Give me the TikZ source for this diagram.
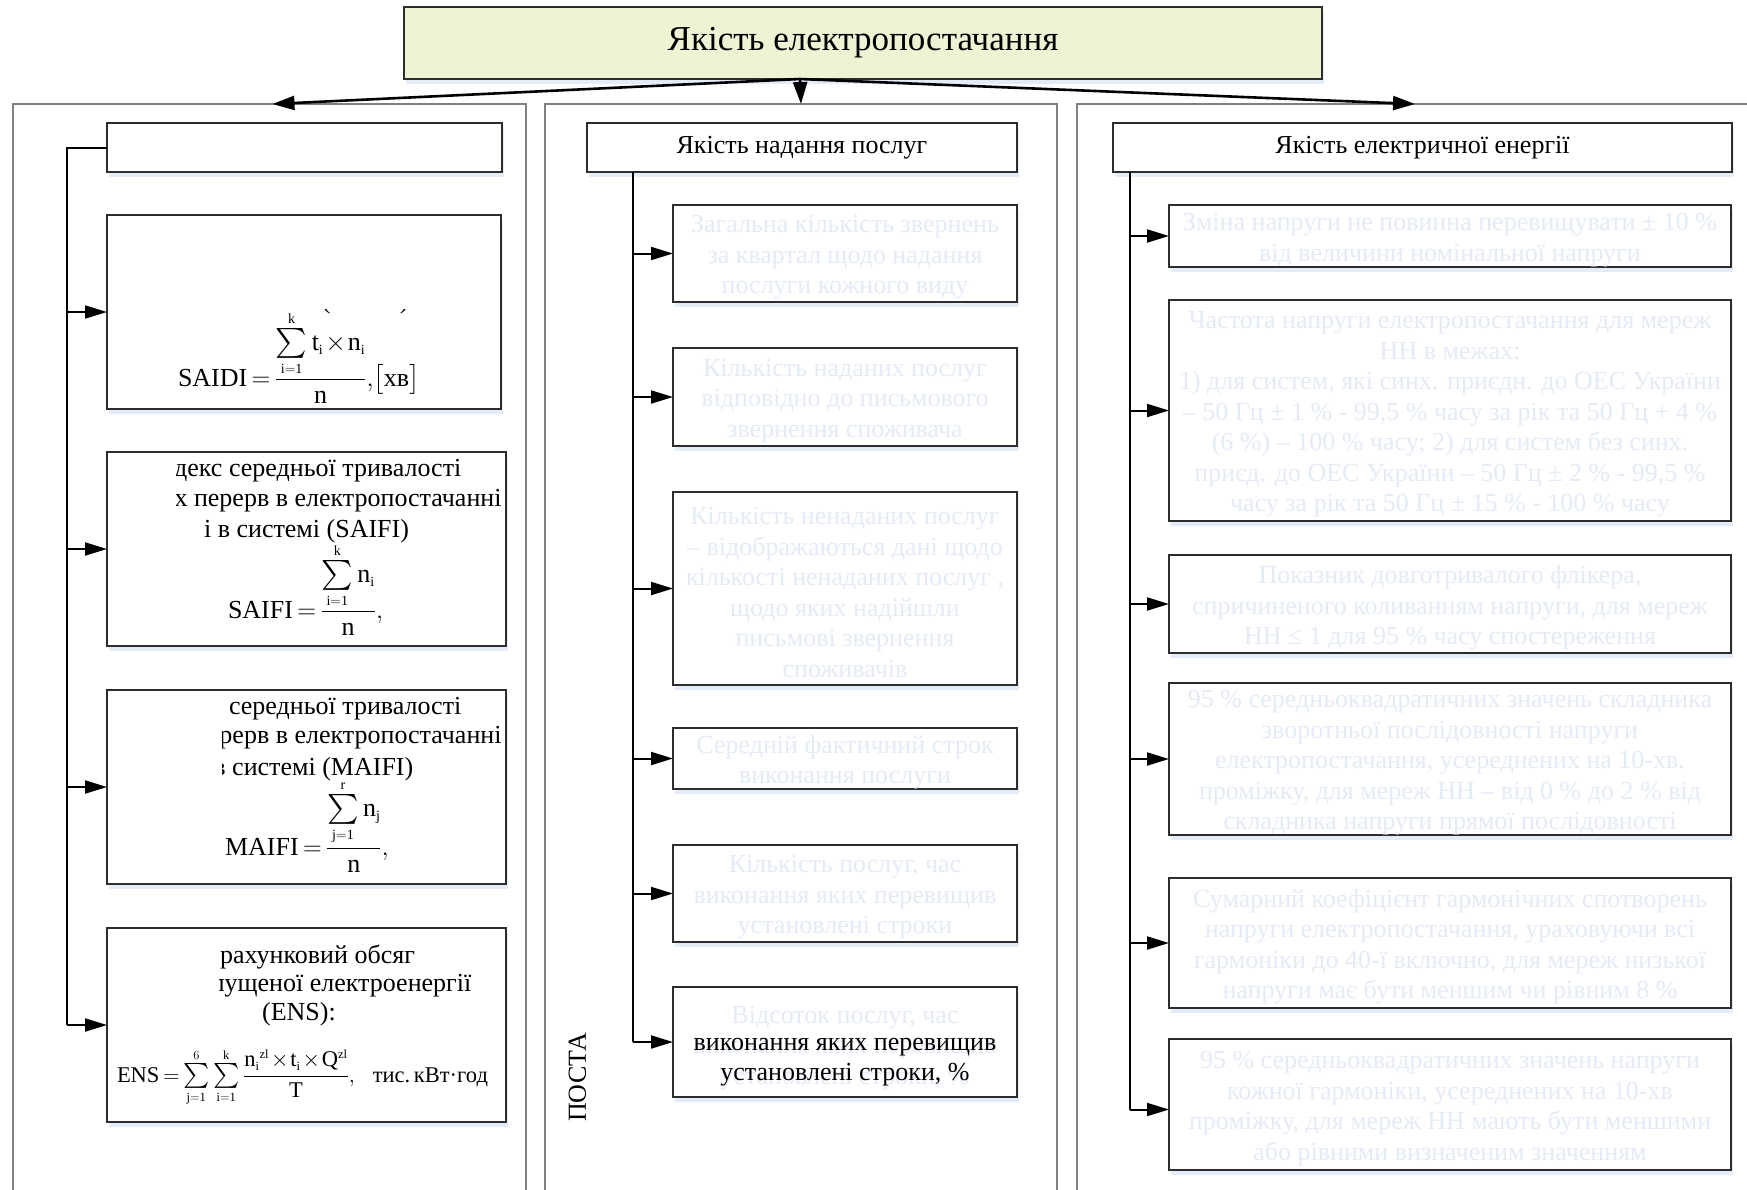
\RequirePackage{fix-cm}
\documentclass[tikz,border=0pt]{standalone}
\usepackage{amsmath}
\usepackage{graphicx}
\usepackage{fontspec}
\setmainfont{Liberation Serif}
\usetikzlibrary{arrows.meta,shadows}
\DeclareMathSizes{26}{26}{14}{11}
\DeclareMathSizes{22.5}{22.5}{12.5}{9.5}
\thickmuskip=3mu plus 2mu
\medmuskip=1.5mu plus 1mu
\newcommand{\bsum}{\mathop{\vcenter{\hbox{\scalebox{1.2}{$\textstyle\sum$}}}}\limits}
\definecolor{titlefill}{RGB}{238,243,212}
\definecolor{boxline}{RGB}{45,45,45}
\definecolor{contline}{RGB}{128,128,128}
\definecolor{fadec}{RGB}{229,235,246}
\definecolor{shadowc}{RGB}{228,236,247}
\tikzset{
  box/.style={draw=boxline, line width=1.3pt, fill=white, inner sep=0pt, outer sep=0pt,
    general shadow={fill=shadowc, shadow xshift=2pt, shadow yshift=-5pt}},
  cont/.style={draw=contline, line width=1.4pt, fill=white, inner sep=0pt, outer sep=0pt, anchor=north},
  txt/.style={inner sep=0pt, outer sep=0pt, font=\fontsize{26}{30.5}\selectfont},
  fadetxt/.style={txt, text=fadec, align=center},
  conn/.style={line width=2pt, draw=black},
  arr/.style={conn, -{Triangle[length=22pt,width=13pt]}},
  bigarr/.style={line width=2.6pt, -{Triangle[length=22pt,width=14pt]}},
}
\begin{document}
\begin{tikzpicture}[x=1pt,y=-1pt]
\useasboundingbox (0,0) rectangle (1747,1189);
\fill[white] (0,0) rectangle (1747,1189);

% containers
\node[cont, minimum width=513pt, minimum height=1110pt] (lcont) at (269.5,104) {};
\node[cont, minimum width=512pt, minimum height=1110pt] (mcont) at (801,104) {};
\node[cont, minimum width=676pt, minimum height=1110pt] (rcont) at (1415,104) {};

% title
\node[box, fill=titlefill, minimum width=918pt, minimum height=72pt,
      font=\fontsize{35}{40}\selectfont] (title) at (863,43) {Якість електропостачання};
\coordinate (src) at ([xshift=-63pt]title.south);
\draw[bigarr] (src) -- ([xshift=3pt]lcont.north);
\draw[bigarr] (src) -- (mcont.north);
\draw[bigarr] (src) -- (rcont.north);

% ---------------- left column
\node[box, minimum width=395pt, minimum height=49pt] (lhead) at (304.5,147.5) {};
\node[box, minimum width=394pt, minimum height=194pt] (saidi) at (304,312) {};
\node[box, minimum width=399pt, minimum height=194pt] (saifi) at (306.5,549) {};
\node[box, minimum width=399pt, minimum height=194pt] (maifi) at (306.5,787) {};
\node[box, minimum width=399pt, minimum height=194pt] (ens) at (306.5,1025) {};
\coordinate (lt) at (67,0);
\draw[conn] (lhead.west) -- (lhead.west -| lt) -- (ens.west -| lt);
\draw[arr] (saidi.west -| lt) -- (saidi.west);
\draw[arr] (saifi.west -| lt) -- (saifi.west);
\draw[arr] (maifi.west -| lt) -- (maifi.west);
\draw[arr] (ens.west -| lt) -- (ens.west);

\begin{scope}
  \clip (107,309.5) rectangle (501,409);
  \node[txt, anchor=base] (saidi0) at (304,308.5) {і в системі (SAIDI)};
\end{scope}
\node[txt, anchor=base west] (saidif) at (178,386)
  {$\mathrm{SAIDI}=\dfrac{\bsum_{\mathrm{i=1}}^{\mathrm{k}}\mathrm{t_i\times n_i}}{\mathrm{n}},\!\bigl[\text{хв}\bigr]$};

\begin{scope}
  \clip (176,452) rectangle (506,646);
  \node[txt, anchor=base] (saifi1) at (306.5,476) {Індекс середньої тривалості};
  \node[txt, anchor=base] (saifi2) at (306.5,506) {довгих перерв в електропостачанні};
  \node[txt, anchor=base] (saifi3) at (306.5,537) {і в системі (SAIFI)};
\end{scope}
\node[txt, anchor=base west] (saifif) at (228,618)
  {$\mathrm{SAIFI}=\dfrac{\bsum_{\mathrm{i=1}}^{\mathrm{k}}\mathrm{n_i}}{\mathrm{n}},$};

\begin{scope}
  \clip (222,690) rectangle (506,884);
  \node[txt, anchor=base] (maifi1) at (306.5,714) {Індекс середньої тривалості};
  \node[txt, anchor=base] (maifi2) at (306.5,743) {довгих перерв в електропостачанні};
  \node[txt, anchor=base] (maifi3) at (306.5,775) {і в системі (MAIFI)};
\end{scope}
\node[txt, anchor=base west] (maifif) at (225,855)
  {$\mathrm{MAIFI}=\dfrac{\bsum_{\mathrm{j=1}}^{\mathrm{r}}\mathrm{n_j}}{\mathrm{n}},$};

\begin{scope}
  \clip (219,928) rectangle (506,1122);
  \node[txt, anchor=base] (ens1) at (299,963) {Розрахунковий обсяг};
  \node[txt, anchor=base] (ens2) at (299,991) {недовідпущеної електроенергії};
  \node[txt, anchor=base] (ens3) at (299,1020) {(ENS):};
\end{scope}
\node[txt, anchor=base west, font=\fontsize{22.5}{27}\selectfont] (ensf) at (117,1082)
  {$\mathrm{ENS}=\bsum_{\mathrm{j=1}}^{6}\bsum_{\mathrm{i=1}}^{\mathrm{k}}\dfrac{{\mathrm{n_i}}^{\mathrm{zl}}\times\mathrm{t_i}\times\mathrm{Q^{zl}}}{\mathrm{T}},\hspace{14pt}\text{тис.\,кВт·год}$};

% ---------------- middle column
\node[box, minimum width=430pt, minimum height=49pt, txt] (mhead) at (802,147.5) {Якість надання послуг};
\node[box, minimum width=344pt, minimum height=97pt] (m1) at (845,253.5) {};
\node[box, minimum width=344pt, minimum height=98pt] (m2) at (845,397) {};
\node[box, minimum width=344pt, minimum height=193pt] (m3) at (845,588.5) {};
\node[box, minimum width=344pt, minimum height=61pt] (m4) at (845,758.5) {};
\node[box, minimum width=344pt, minimum height=97pt] (m5) at (845,893.5) {};
\node[box, minimum width=344pt, minimum height=110pt] (m6) at (845,1042) {};
\coordinate (mt) at (633,0);
\draw[conn] (mhead.south -| mt) -- (m6.west -| mt);
\foreach \b in {m1,m2,m3,m4,m5,m6}{\draw[arr] (\b.west -| mt) -- (\b.west);}

\node[fadetxt] (m1t) at ([yshift=-4pt]m1.center) {Загальна кількість звернень\\за квартал щодо надання\\послуги кожного виду};
\node[fadetxt] (m2t) at ([yshift=-4pt]m2.center) {Кількість наданих послуг\\відповідно до письмового\\звернення споживача};
\node[fadetxt] (m3t) at ([yshift=-4pt]m3.center) {Кількість ненаданих послуг\\– відображаються дані щодо\\кількості ненаданих послуг ,\\щодо яких надійшли\\письмові звернення\\споживачів};
\node[fadetxt] (m4t) at ([yshift=-4pt]m4.center) {Середній фактичний строк\\виконання послуги};
\node[fadetxt] (m5t) at ([yshift=-4pt]m5.center) {Кількість послуг, час\\виконання яких перевищив\\установлені строки};
\node[fadetxt] (m6t) at ([yshift=-6pt]m6.center) {Відсоток послуг, час\\виконання яких перевищив\\установлені строки, \%};
\node[txt, anchor=base] (m6a) at (845,1050) {виконання яких перевищив};
\node[txt, anchor=base] (m6b) at (845,1080) {установлені строки, \%};
\node[txt, rotate=90] (posta) at (577.5,1077.5) {ПОСТА};

% ---------------- right column
\node[box, minimum width=619pt, minimum height=49pt, txt] (rhead) at (1422.5,147.5) {Якість електричної енергії};
\node[box, minimum width=562pt, minimum height=62pt] (r1) at (1450,236) {};
\node[box, minimum width=562pt, minimum height=221pt] (r2) at (1450,410.5) {};
\node[box, minimum width=562pt, minimum height=98pt] (r3) at (1450,604) {};
\node[box, minimum width=562pt, minimum height=152pt] (r4) at (1450,759) {};
\node[box, minimum width=562pt, minimum height=130pt] (r5) at (1450,943) {};
\node[box, minimum width=562pt, minimum height=131pt] (r6) at (1450,1104.5) {};
\coordinate (rt) at (1130,0);
\draw[conn] (rhead.south -| rt) -- ([yshift=-5pt]r6.west -| rt);
\foreach \b in {r1,r2,r3,r4,r5}{\draw[arr] (\b.west -| rt) -- (\b.west);}
\draw[arr] ([yshift=-5pt]r6.west -| rt) -- ([yshift=-5pt]r6.west);

\node[fadetxt] (r1t) at ([yshift=-4pt]r1.center) {Зміна напруги не повинна перевищувати ± 10 \%\\від величини номінальної напруги};
\node[fadetxt] (r2t) at ([yshift=-4pt]r2.center) {Частота напруги електропостачання для мереж\\НН в межах:\\1) для систем, які синх. приєдн. до ОЕС України\\– 50 Гц ± 1 \% - 99,5 \% часу за рік та 50 Гц + 4 \%\\(6 \%) – 100 \% часу; 2) для систем без синх.\\приєд. до ОЕС України – 50 Гц ± 2 \% - 99,5 \%\\часу за рік та 50 Гц ± 15 \% - 100 \% часу};
\node[fadetxt] (r3t) at ([yshift=-4pt]r3.center) {Показник довготривалого флікера,\\спричиненого коливанням напруги, для мереж\\НН ≤ 1 для 95 \% часу спостереження};
\node[fadetxt] (r4t) at ([yshift=-4pt]r4.center) {95 \% середньоквадратичних значень складника\\зворотньої послідовності напруги\\електропостачання, усереднених на 10-хв.\\проміжку, для мереж НН – від 0 \% до 2 \% від\\складника напруги прямої послідовності};
\node[fadetxt] (r5t) at ([yshift=-4pt]r5.center) {Сумарний коефіцієнт гармонічних спотворень\\напруги електропостачання, ураховуючи всі\\гармоніки до 40-ї включно, для мереж низької\\напруги має бути меншим чи рівним 8 \%};
\node[fadetxt] (r6t) at ([yshift=-4pt]r6.center) {95 \% середньоквадратичних значень напруги\\кожної гармоніки, усереднених на 10-хв\\проміжку, для мереж НН мають бути меншими\\або рівними визначеним значенням};
\end{tikzpicture}
\end{document}
